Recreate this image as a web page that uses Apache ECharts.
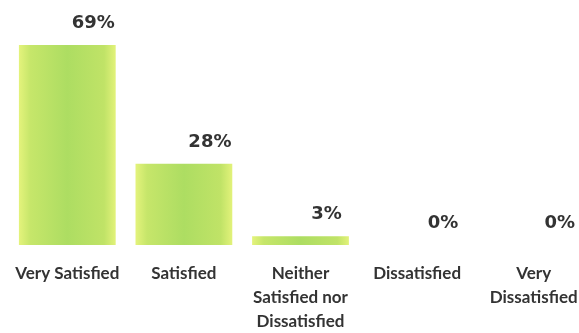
<!DOCTYPE html>
<html>
<head>
<meta charset="utf-8">
<title>Satisfaction</title>
<script src="https://cdn.jsdelivr.net/npm/echarts@6/dist/echarts.min.js"></script>
<style>
    html, body { margin: 0; padding: 0; background: #fff; }
    #chart { width: 579px; height: 333px; }
</style>
</head>
<body>
<div id="chart"></div>
<script>
// answer categories (line breaks as in the picture)
var categories = ["Very Satisfied", "Satisfied", "Neither\nSatisfied nor\nDissatisfied", "Dissatisfied", "Very\nDissatisfied"];
// share of answers, percent
var shares = [69, 28, 3, 0, 0];

(function() {
    var chart = echarts.init(document.getElementById("chart"), null, { renderer: "canvas" });

    var barFill = new echarts.graphic.LinearGradient(0, 0, 1, 0, [
        { offset: 0, color: "#e4f37c" },
        { offset: 0.12, color: "#c6e66a" },
        { offset: 0.5, color: "#addd62" },
        { offset: 0.88, color: "#c0e367" },
        { offset: 1, color: "#e2f27a" }
    ]);

    var option = {
        animation: false,
        grid: {
            left: 9,
            width: 583,
            top: 45,
            bottom: 88,
            containLabel: false,
            outerBoundsMode: "none"
        },
        xAxis: {
            type: "category",
            data: categories,
            axisLine: { show: false },
            axisTick: { show: false },
            axisLabel: {
                interval: 0,
                margin: 17,
                color: "#333",
                fontFamily: "Lato",
                fontWeight: "bold",
                fontSize: 17,
                lineHeight: 24
            }
        },
        yAxis: {
            type: "value",
            min: 0,
            max: "dataMax",
            show: false,
            splitLine: { show: false }
        },
        series: [{
            type: "bar",
            data: shares,
            barWidth: "83%",
            itemStyle: { color: barFill },
            label: {
                show: true,
                position: "top",
                distance: 13,
                offset: [26, 0],
                formatter: "{c}%",
                color: "#333",
                fontFamily: "DejaVu Sans",
                fontWeight: "bold",
                fontSize: 18
            }
        }]
    };

    chart.setOption(option);
}());
</script>
</body>
</html>
